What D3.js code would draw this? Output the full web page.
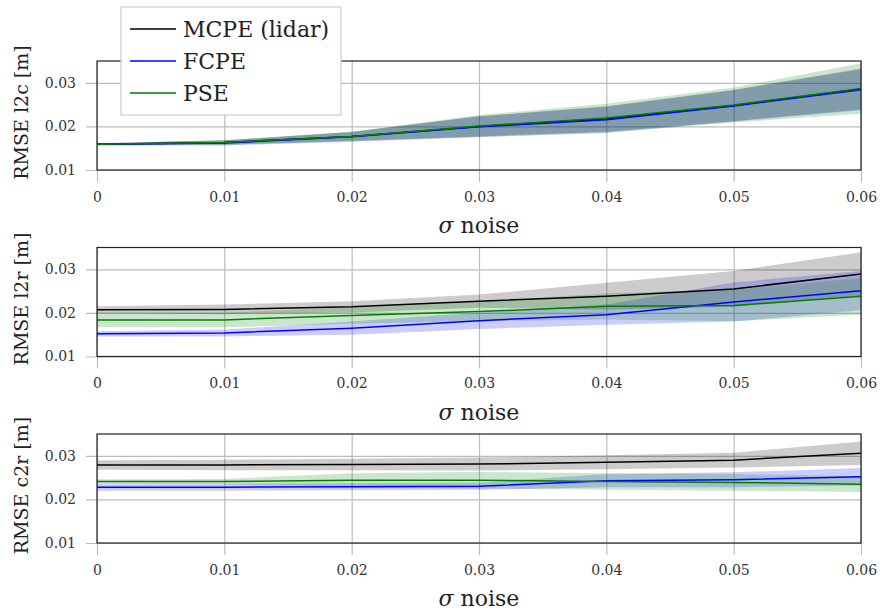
<!DOCTYPE html>
<html>
<head>
<meta charset="utf-8">
<script src="https://cdn.jsdelivr.net/npm/d3@7"></script>
<style>
  body { margin: 0; background: #fff; }
  svg { display: block; font-family: "DejaVu Serif", serif; }
</style>
</head>
<body>
<div id="chart"></div>
<script>
// noise levels on the x axis
var noise = [0, 0.01, 0.02, 0.03, 0.04, 0.05, 0.06];
var xTickLabels = ["0", "0.01", "0.02", "0.03", "0.04", "0.05", "0.06"];
var yTicks = [0.01, 0.02, 0.03];
var yTickLabels = ["0.01", "0.02", "0.03"];

var methods = ["MCPE (lidar)", "FCPE", "PSE"];
var colors = ["#000000", "#0000ff", "#008000"];

// mean / std per method (MCPE, FCPE, PSE)
var l2cMean = [
  [0.0159, 0.0163, 0.0177, 0.0200, 0.0217, 0.0248, 0.0286],
  [0.0159, 0.0162, 0.0176, 0.0199, 0.0215, 0.0247, 0.0284],
  [0.0159, 0.0163, 0.0177, 0.0201, 0.0219, 0.0249, 0.0287]
];
var l2cStd = [
  [0.0002, 0.0005, 0.0010, 0.0023, 0.0029, 0.0036, 0.0047],
  [0.0003, 0.0006, 0.0011, 0.0024, 0.0030, 0.0036, 0.0047],
  [0.0002, 0.0005, 0.0011, 0.0025, 0.0033, 0.0040, 0.0058]
];
var l2rMean = [
  [0.0207, 0.0208, 0.0214, 0.0227, 0.0238, 0.0255, 0.0289],
  [0.0152, 0.0154, 0.0165, 0.0182, 0.0196, 0.0225, 0.0251],
  [0.0184, 0.0184, 0.0194, 0.0203, 0.0215, 0.0217, 0.0238]
];
var l2rStd = [
  [0.0008, 0.0011, 0.0013, 0.0015, 0.0031, 0.0041, 0.0050],
  [0.0006, 0.0008, 0.0015, 0.0019, 0.0023, 0.0045, 0.0045],
  [0.0017, 0.0017, 0.0019, 0.0022, 0.0030, 0.0036, 0.0042]
];
var c2rMean = [
  [0.0279, 0.0279, 0.0280, 0.0281, 0.0285, 0.0290, 0.0306],
  [0.0228, 0.0228, 0.0229, 0.0230, 0.0243, 0.0245, 0.0252],
  [0.0241, 0.0241, 0.0244, 0.0244, 0.0241, 0.0239, 0.0235]
];
var c2rStd = [
  [0.0011, 0.0012, 0.0013, 0.0015, 0.0016, 0.0017, 0.0027],
  [0.0008, 0.0008, 0.0008, 0.0008, 0.0015, 0.0017, 0.0020],
  [0.0005, 0.0006, 0.0016, 0.0019, 0.0019, 0.0019, 0.0018]
];

var panels = [
  {label: "RMSE l2c [m]", mean: l2cMean, std: l2cStd, top: 61},
  {label: "RMSE l2r [m]", mean: l2rMean, std: l2rStd, top: 247.5},
  {label: "RMSE c2r [m]", mean: c2rMean, std: c2rStd, top: 434}
];

var W = 880, H = 612;
var left = 97, right = 861, ph = 109;

var svg = d3.select("#chart").append("svg")
    .attr("width", W).attr("height", H);

var x = d3.scaleLinear().domain([0, 0.06]).range([left, right]);

panels.forEach(function(p) {
  var top = p.top, bottom = top + ph;
  var y = d3.scaleLinear().domain([0.01, 0.035]).range([bottom, top]);
  var g = svg.append("g");

  // vertical grid + x ticks in one go
  var xa = g.append("g")
      .attr("transform", "translate(0," + top + ")")
      .call(d3.axisBottom(x).tickValues(noise)
        .tickFormat(function(d, i) { return xTickLabels[i]; })
        .tickSize(ph + 12).tickPadding(10));
  xa.select(".domain").remove();
  xa.selectAll(".tick line").attr("stroke", "#bcbcbc").attr("stroke-width", 1.2);
  xa.selectAll(".tick text").attr("fill", "#333")
      .style("font-family", "DejaVu Serif").style("font-size", "14px");

  // horizontal grid + y ticks
  var ya = g.append("g")
      .attr("transform", "translate(" + right + ",0)")
      .call(d3.axisLeft(y).tickValues(yTicks)
        .tickFormat(function(d, i) { return yTickLabels[i]; })
        .tickSize(right - left + 11).tickPadding(10));
  ya.select(".domain").remove();
  ya.selectAll(".tick line").attr("stroke", "#bcbcbc").attr("stroke-width", 1.2);
  ya.selectAll(".tick text").attr("fill", "#333")
      .style("font-family", "DejaVu Serif").style("font-size", "14px");

  // std bands
  methods.forEach(function(m, k) {
    var pts = noise.map(function(n, i) { return [n, p.mean[k][i], p.std[k][i]]; });
    g.append("path")
        .datum(pts)
        .attr("fill", colors[k])
        .attr("fill-opacity", 0.2)
        .attr("d", d3.area()
          .x(function(d) { return x(d[0]); })
          .y0(function(d) { return y(d[1] - d[2]); })
          .y1(function(d) { return y(d[1] + d[2]); }));
  });

  // mean lines
  methods.forEach(function(m, k) {
    var pts = noise.map(function(n, i) { return [n, p.mean[k][i]]; });
    g.append("path")
        .datum(pts)
        .attr("fill", "none")
        .attr("stroke", colors[k])
        .attr("stroke-width", 1.5)
        .attr("d", d3.line()
          .x(function(d) { return x(d[0]); })
          .y(function(d) { return y(d[1]); }));
  });

  // frame
  g.append("rect")
      .attr("x", left).attr("y", top)
      .attr("width", right - left).attr("height", ph)
      .attr("fill", "none").attr("stroke", "#222").attr("stroke-width", 1.2);

  g.append("text")
      .attr("transform", "translate(28," + (top + ph / 2 - 3) + ") rotate(-90)")
      .attr("text-anchor", "middle")
      .attr("fill", "#222")
      .style("font-size", "19px")
      .text(p.label);

  var xl = g.append("text")
      .attr("x", (left + right) / 2).attr("y", bottom + 63)
      .attr("text-anchor", "middle")
      .attr("fill", "#222")
      .style("font-size", "22px");
  xl.append("tspan").style("font-style", "italic").text("σ");
  xl.append("tspan").text(" noise");
});

// legend sits over the first panel
var lg = svg.append("g").attr("transform", "translate(121,7)");
lg.append("rect")
    .attr("width", 220).attr("height", 108)
    .attr("fill", "#fff").attr("stroke", "#cccccc").attr("stroke-width", 1.2);
methods.forEach(function(m, k) {
  var yy = 22 + k * 32;
  lg.append("line")
      .attr("x1", 9).attr("x2", 55).attr("y1", yy).attr("y2", yy)
      .attr("stroke", colors[k]).attr("stroke-width", 1.5);
  lg.append("text")
      .attr("x", 62).attr("y", yy + 8)
      .attr("fill", "#222")
      .style("font-size", "22px")
      .text(m);
});
</script>
</body>
</html>
